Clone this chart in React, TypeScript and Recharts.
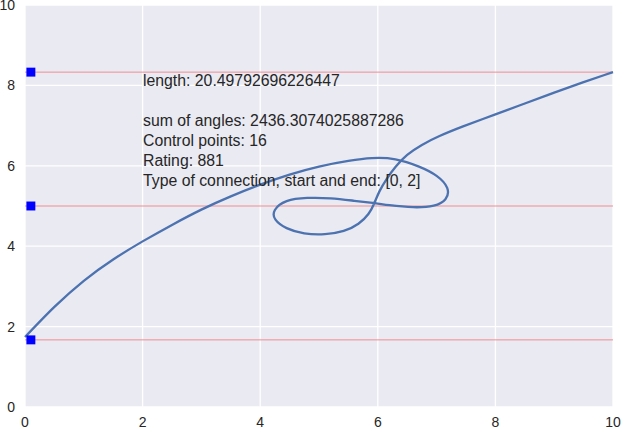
import {
  ComposedChart,
  Line,
  Scatter,
  XAxis,
  YAxis,
  ZAxis,
  CartesianGrid,
  ReferenceLine,
} from 'recharts';

// path of the connection (x and y in axis units, in drawing order)
const curveX = [
  0.0, 0.5, 1.0, 1.5, 2.0, 2.5, 3.0, 3.5, 4.0, 4.5, 5.0, 5.5, 5.9,
  6.3, 6.7, 7.0, 7.18, 7.15, 6.95, 6.6, 6.2, 5.95,
  5.6, 5.2, 4.8, 4.45, 4.25, 4.26, 4.45, 4.75, 5.1, 5.42, 5.67, 5.84,
  5.94, 6.03, 6.15, 6.3, 6.5, 6.75, 7.05, 7.45, 8.0, 8.5, 9.0, 9.5, 10.0,
];
const curveY = [
  1.74, 2.49, 3.14, 3.67, 4.12, 4.53, 4.91, 5.24, 5.53, 5.78, 5.98, 6.12, 6.19,
  6.16, 5.98, 5.75, 5.45, 5.17, 5.01, 4.97, 5.02, 5.07,
  5.13, 5.19, 5.2, 5.12, 4.9, 4.66, 4.45, 4.32, 4.3, 4.38, 4.56, 4.8,
  5.07, 5.37, 5.67, 5.97, 6.27, 6.52, 6.74, 6.98, 7.28, 7.55, 7.82, 8.08, 8.33,
];

// horizontal guide levels and their square markers
const levels = [1.67, 5.0, 8.33];
const markerX = 0.1;

const xTicks = [0, 2, 4, 6, 8, 10];
const yTicks = [0, 2, 4, 6, 8, 10];

const infoLines = [
  'length: 20.49792696226447',
  '',
  'sum of angles: 2436.3074025887286',
  'Control points: 16',
  'Rating: 881',
  'Type of connection, start and end: [0, 2]',
];

const FONT = '"Liberation Sans", Arial, sans-serif';

function App() {
  const curve = curveX.map((x, i) => ({ x, y: curveY[i] }));
  const markers = levels.map((y) => ({ x: markerX, y }));

  return (
    <div style={{ position: 'absolute', left: 0, top: 0, width: 623, height: 429, fontFamily: FONT }}>
      <ComposedChart width={623} height={429} margin={{ top: 5, right: 10, bottom: 0, left: 0 }}>
        <CartesianGrid stroke="#ffffff" strokeWidth={1.3} fill="#EAEAF2" fillOpacity={1} />
        <XAxis
          type="number"
          dataKey="x"
          domain={[0, 10]}
          ticks={xTicks}
          interval={0}
          height={22}
          tickLine={false}
          axisLine={false}
          tickMargin={4}
          tick={{ fill: '#262626', fontSize: 14, fontFamily: FONT }}
        />
        <YAxis
          type="number"
          dataKey="y"
          domain={[0, 10]}
          ticks={yTicks}
          interval={0}
          width={25}
          tickLine={false}
          axisLine={false}
          tickMargin={4}
          tick={{ fill: '#262626', fontSize: 14, fontFamily: FONT }}
        />
        <ZAxis type="number" range={[80, 80]} />
        {levels.map((v) => (
          <ReferenceLine key={v} y={v} stroke="#F28C91" strokeWidth={1} />
        ))}
        <Line
          data={curve}
          dataKey="y"
          type="natural"
          stroke="#4C72B0"
          strokeWidth={2.3}
          dot={false}
          activeDot={false}
          isAnimationActive={false}
        />
        <Scatter data={markers} dataKey="y" fill="#0000FF" shape="square" isAnimationActive={false} />
      </ComposedChart>
      <div
        style={{
          position: 'absolute',
          left: 143,
          top: 71,
          fontSize: 15.8,
          lineHeight: '20px',
          color: '#262626',
          whiteSpace: 'pre',
          pointerEvents: 'none',
        }}
      >
        {infoLines.map((t, i) => (
          <div key={i} style={{ height: 20 }}>{t}</div>
        ))}
      </div>
    </div>
  );
}

export default App;
